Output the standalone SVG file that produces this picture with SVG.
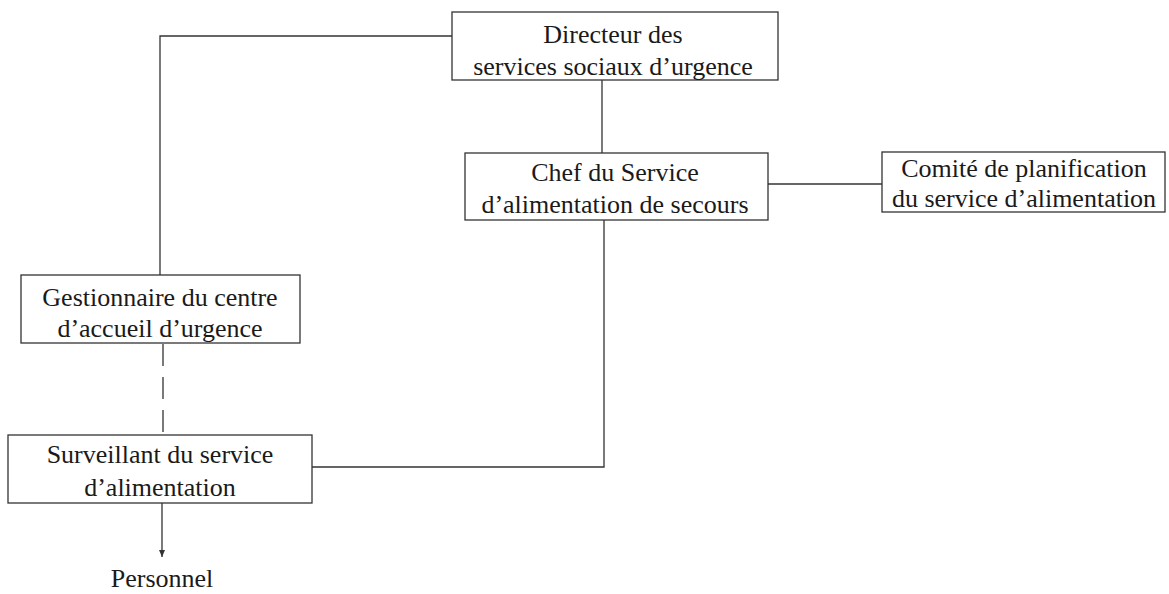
<svg xmlns="http://www.w3.org/2000/svg" width="1169" height="594" viewBox="0 0 1169 594">
  <style>
    .box { fill: #ffffff; stroke: #333333; stroke-width: 1.3; }
    .lbl { font-family: "Liberation Serif", "Times New Roman", serif; font-size: 26px; fill: #1a1a1a; text-anchor: middle; }
    .link { fill: none; stroke: #333333; stroke-width: 1.3; }
    .dash { stroke-dasharray: 22 11; }
  </style>
  <defs>
    <marker id="arrow" markerWidth="8" markerHeight="8" refX="7" refY="4" orient="auto" markerUnits="userSpaceOnUse">
      <path d="M0,1 L7,4 L0,7 Z" fill="#333333"/>
    </marker>
  </defs>

  <g id="connectors">
    <polyline class="link" points="452,36 160,36 160,275"/>
    <line class="link" x1="602" y1="80" x2="602" y2="153"/>
    <line class="link" x1="768" y1="184" x2="882" y2="184"/>
    <polyline class="link" points="604,220 604,467 312,467"/>
    <line class="link dash" x1="163" y1="344" x2="163" y2="435"/>
    <line class="link" x1="162" y1="503" x2="162" y2="557" marker-end="url(#arrow)"/>
  </g>

  <g id="directeur">
    <rect class="box" x="452" y="12" width="326" height="68"/>
    <text class="lbl" x="613" y="43">Directeur des</text>
    <text class="lbl" x="613" y="75">services sociaux d’urgence</text>
  </g>

  <g id="chef">
    <rect class="box" x="465" y="153" width="303" height="67"/>
    <text class="lbl" x="615" y="181">Chef du Service</text>
    <text class="lbl" x="615" y="213">d’alimentation de secours</text>
  </g>

  <g id="comite">
    <rect class="box" x="882" y="152" width="283" height="60"/>
    <text class="lbl" x="1024" y="177">Comité de planification</text>
    <text class="lbl" x="1024" y="207">du service d’alimentation</text>
  </g>

  <g id="gestionnaire">
    <rect class="box" x="21" y="275" width="279" height="68"/>
    <text class="lbl" x="160" y="306">Gestionnaire du centre</text>
    <text class="lbl" x="160" y="337">d’accueil d’urgence</text>
  </g>

  <g id="surveillant">
    <rect class="box" x="8" y="435" width="304" height="68"/>
    <text class="lbl" x="160" y="463">Surveillant du service</text>
    <text class="lbl" x="160" y="496">d’alimentation</text>
  </g>

  <g id="personnel">
    <text class="lbl" x="162" y="587">Personnel</text>
  </g>
</svg>
